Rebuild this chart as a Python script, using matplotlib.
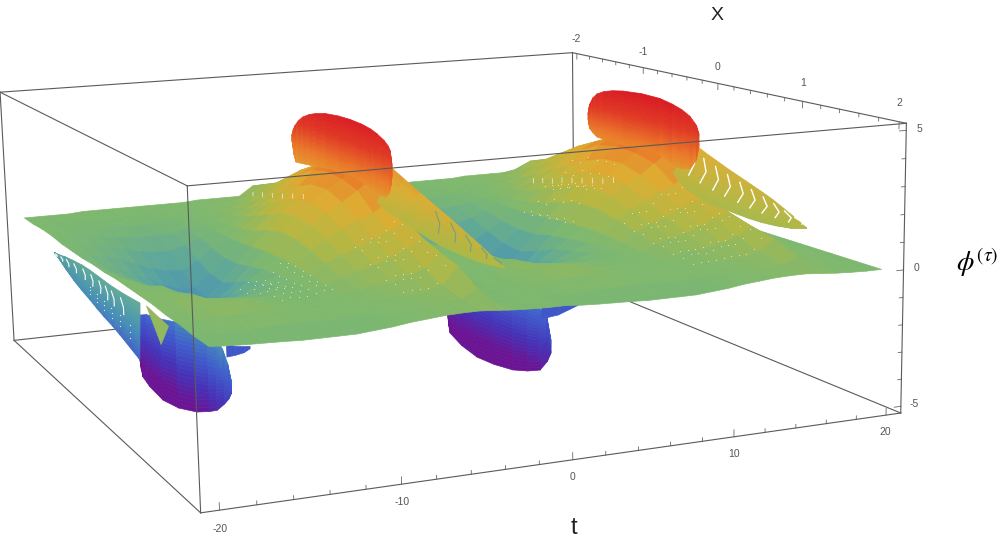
import numpy as np, matplotlib
matplotlib.use('Agg')
import matplotlib.pyplot as plt
from matplotlib.colors import LinearSegmentedColormap
from mpl_toolkits.mplot3d import proj3d

t_nodes = list(range(-20, 21))
x_nodes = [-2,-1.75,-1.5,-1.25,-1,-.75,-.5,-.25,0,.25,.5,.75,1,1.25,1.5,1.75,2]
surface_z = [
[0,0,.05,.05,0,0,0,.05,.05,.1,.1,.1,.1,.05,.05,0,0],
[0,0,0,-.05,-.1,-.2,-.3,-.3,-.2,-.05,.05,.15,.25,.2,.1,0,-.05],
[0,0,-.05,-.1,-.2,-.35,-.5,-.55,-.5,-.3,0,.05,.25,.3,.15,0,-.08],
[0,0,-.05,-.15,-.3,-.5,-.75,-.85,-.8,-.6,-.3,-.05,.1,.3,.2,0,-.1],
[.05,0,-.1,-.25,-.45,-.75,-1.05,-1.2,-1.1,-.9,-.6,-.3,.05,.3,.2,.05,-.12],
[.05,0,-.1,-.3,-.6,-1,-1.35,-1.5,-1.4,-1.15,-.8,-.4,0,.2,.2,.05,-.15],
[.05,0,-.15,-.35,-.7,-1.15,-1.55,-1.7,-1.55,-1.25,-.8,-.35,-.05,.1,.1,.05,-.15],
[.05,0,-.15,-.35,-.7,-1.2,-1.6,-1.7,-1.4,-.9,-.55,-.25,-.05,.05,.05,.03,-.15],
[.05,0,-.1,-.3,-.55,-.85,-1.1,-1.15,-.85,-.5,-.3,-.1,0,.05,.05,.03,-.15],
[.05,0,-.05,-.15,-.3,-.45,-.55,-.5,-.3,-.15,-.05,0,.05,.05,.05,.03,-.1],
[.05,.05,0,-.05,-.05,-.05,0,.1,.2,.25,.25,.2,.15,.1,.05,.03,-.05],
[.05,.05,.05,.05,.1,.2,.4,.7,.9,.9,.75,.55,.35,.2,.1,.05,.03],
[.1,.1,.1,.2,.4,.7,1.0,1.3,1.45,1.35,1.1,.8,.5,.3,.15,.1,.08],
[.1,.15,.25,.4,.75,1.1,1.5,1.8,1.9,1.75,1.4,1.0,.65,.35,.2,.15,.13],
[.1,.2,.4,.75,1.15,1.6,2.0,2.3,2.35,2.1,1.7,1.25,.85,.5,.25,.2,.15],
[.1,.4,.8,1.2,1.7,2.2,2.6,2.75,2.7,2.5,1.9,1.5,1.1,.7,.4,.2,.15],
[.5,.8,1.1,1.6,2.1,2.5,2.9,3.2,3.4,2.9,2.3,1.8,1.45,1.2,1.0,.5,.1],
[.05,.05,.05,.05,0,0,0,0,-.05,-.1,-.1,-.1,-.05,0,0,0,.05],
[0,0,0,0,0,0,0,0,-.05,-.05,-.05,-.05,0,0,0,0,.02],
[0,0,0,0,0,0,0,0,0,0,0,0,0,0,0,0,0],
[0,0,.05,.05,0,0,0,.05,.05,.1,.1,.1,.1,.05,.05,0,0],
[0,0,0,-.05,-.1,-.2,-.3,-.3,-.2,-.05,.05,.15,.25,.2,.1,0,-.05],
[0,0,-.05,-.1,-.2,-.35,-.5,-.55,-.5,-.3,0,.05,.25,.3,.15,0,-.08],
[0,0,-.05,-.15,-.3,-.5,-.75,-.85,-.8,-.6,-.3,-.05,.1,.3,.2,0,-.1],
[.05,0,-.1,-.25,-.45,-.75,-1.05,-1.2,-1.1,-.9,-.6,-.3,.05,.3,.2,.05,-.12],
[.05,0,-.1,-.3,-.6,-1,-1.35,-1.5,-1.4,-1.15,-.8,-.4,0,.2,.2,.05,-.15],
[.05,0,-.15,-.35,-.7,-1.15,-1.55,-1.7,-1.55,-1.25,-.8,-.35,-.05,.1,.1,.05,-.15],
[.05,0,-.15,-.35,-.7,-1.2,-1.6,-1.7,-1.4,-.9,-.55,-.25,-.05,.05,.05,.03,-.15],
[.05,0,-.1,-.3,-.55,-.85,-1.1,-1.15,-.85,-.5,-.3,-.1,0,.05,.05,.03,-.15],
[.05,0,-.05,-.15,-.3,-.45,-.55,-.5,-.3,-.15,-.05,0,.05,.05,.05,.03,-.1],
[.05,.05,0,-.05,-.05,-.05,0,.1,.2,.25,.25,.2,.15,.1,.05,.03,-.05],
[.05,.05,.05,.05,.1,.2,.4,.7,.9,.9,.75,.55,.35,.2,.1,.05,.03],
[.1,.1,.1,.2,.4,.7,1.0,1.3,1.45,1.35,1.1,.8,.5,.3,.15,.1,.08],
[.1,.15,.25,.4,.75,1.1,1.5,1.8,1.9,1.75,1.4,1.0,.65,.35,.2,.15,.13],
[.1,.2,.4,.75,1.15,1.6,2.0,2.3,2.35,2.1,1.7,1.25,.85,.5,.25,.2,.15],
[.1,.4,.8,1.2,1.7,2.2,2.6,2.75,2.7,2.5,1.9,1.5,1.1,.7,.4,.2,.15],
[.2,.8,1.1,1.6,2.1,2.5,2.9,3.2,3.4,2.9,2.3,1.6,1.25,1.0,.8,.4,.1],
[.1,.3,.4,.5,.6,.6,.6,.6,.5,.5,.5,.4,.4,.3,.2,.1,.05],
[.05,.15,.2,.3,.3,.3,.3,.3,.3,.3,.3,.2,.2,.15,.1,.05,.02],
[0,.05,.1,.1,.15,.15,.15,.15,.15,.15,.1,.1,.1,.05,.05,0,0],
[0,0,0,0,0,0,0,0,0,0,0,0,0,0,0,0,0],
]
tick_t = [-20,-10,0,10,20]
tick_x = [-2,-1,0,1,2]
tick_z = [-5,0,5]
minor_t = list(range(-20,21,2))
minor_x = [-2,-1.8,-1.6,-1.4,-1.2,-1,-.8,-.6,-.4,-.2,0,.2,.4,.6,.8,1,1.2,1.4,1.6,1.8,2]
minor_z = [-5,-4,-3,-2,-1,0,1,2,3,4,5]

cap1_t=-4
cap1_x=[-1.16,-1.13,-1.10,-1.03,-.94,-.82,-.7,-.53,-.3,-.10,.1,.24,.34,.45,.51,.54,.56]
cap1_top=[3.40,3.65,3.82,4.08,4.31,4.5,4.63,4.76,4.84,4.86,4.83,4.76,4.66,4.5,4.35,4.2,3.75]
cap1_low=[3.15,2.6,2.34,2.36,2.4,2.45,2.5,2.6,2.65,2.7,2.6,2.5,2.4,2.4,2.6,2.9,3.3]
cap2_t=16
cap2_x=[-.85,-.83,-.78,-.72,-.62,-.5,-.35,-.1,.14,.3,.42,.52,.6,.63]
cap2_top=[3.63,4.0,4.32,4.53,4.7,4.82,4.91,4.98,4.96,4.85,4.72,4.54,4.25,3.95]
cap2_low=[3.35,3.0,2.85,2.72,2.7,2.7,2.7,2.75,2.7,2.5,2.4,2.5,2.9,3.45]
trough1_t=-17
trough1_x=[-.39,-.37,-.34,-.2,.08,.4,.76,1.0,1.14,1.28,1.36,1.41]
trough1_low=[-4.02,-4.35,-4.61,-4.78,-4.89,-4.7,-4.29,-3.9,-3.64,-3.2,-2.9,-2.62]
trough1_top=[-2.9,-2.5,-2.2,-2.0,-1.8,-1.5,-1.2,-1.0,-1.0,-1.3,-1.7,-2.2]
trough2_t=4
trough2_x=[-.51,-.5,-.48,-.3,-.06,.2,.47,.68,.85,.95,1.0]
trough2_low=[-3.9,-4.25,-4.53,-4.8,-4.95,-4.88,-4.71,-4.45,-4.17,-3.7,-3.31]
trough2_top=[-2.2,-2.0,-1.8,-1.8,-1.8,-1.8,-1.8,-1.8,-1.8,-2.0,-2.8]
neck2_x=[.88,1.1,1.25,1.4]
neck2_low=[-2.18,-1.75,-1.35,-.95]
neck2_top=[-1.2,-1.0,-.9,-.85]
neck1_x=[1.35,1.5,1.65,1.75]
neck1_low=[-1.47,-1.2,-.9,-.63]
neck1_top=[-1.0,-.9,-.7,-.55]

fan2_ridge_x=[.56,.70,.84,.98,1.12,1.25,1.38,1.49,1.6,1.7,1.78,1.84]
fan2_ridge_z=[3.53,3.3,3.1,2.9,2.72,2.55,2.38,2.22,2.03,1.85,1.7,1.56]
fan2_low_x=[.31,.38,.48,.62,.78,.92,1.08,1.22,1.36,1.52,1.68,1.84]
fan2_low_z=[2.14,1.88,1.63,1.48,1.38,1.33,1.29,1.26,1.26,1.3,1.38,1.56]
fan1_t=-3
fan1_ridge_x=[.31,.5,.74,.95,1.16,1.36,1.57,1.72,1.88]
fan1_ridge_z=[3.31,3.07,2.77,2.53,2.29,2.03,1.77,1.55,1.34]
fan1_low_x=[.06,.2,.42,.7,1.01,1.25,1.47,1.68,1.88]
fan1_low_z=[1.75,1.6,1.47,1.3,1.14,1.13,1.14,1.22,1.34]
fanb_up_x=[-2.45,-2.3,-2.15,-1.95,-1.71,-1.5,-1.3,-1.15,-1.01,-.8,-.55,-.33]
fanb_up_z=[-2.17,-2.1,-2.0,-1.92,-1.84,-1.82,-1.83,-1.84,-1.85,-1.83,-1.78,-1.72]
fanb_low_x=[-2.45,-2.3,-2.15,-1.95,-1.75,-1.54,-1.38,-1.2,-1.0,-.83,-.6,-.39]
fanb_low_z=[-2.17,-2.35,-2.55,-2.78,-2.96,-3.11,-3.25,-3.38,-3.5,-3.63,-3.83,-4.02]
wedge_x=[-.2,.25,.08]
wedge_z=[-1.65,-1.84,-2.75]
slit2_x=[-1.5,-1.35,-1.2,-1.05,-.9,-.75,-.6,-.45,-.3]
slit2_low=[.1,.24,.37,.54,.67,.8,.94,1.07,1.24]
slit2_high=[.3,.44,.57,.74,.87,1.0,1.14,1.27,1.44]
slit1_x=[-1.7,-1.5,-1.3,-1.1,-.9,-.7]
slit1_low=[.4,.57,.74,.9,1.1,1.27]
slit1_high=[.57,.74,.9,1.07,1.27,1.44]
speck_patches=[
 ([-13,-12.5,-12,-11.5,-11,-10.5,-10],[.4,.52,.64,.76,.88,1.0,1.12]),
 ([-7,-6.5,-6,-5.5,-5,-4.5],[.7,.82,.94,1.06,1.18,1.3,1.42]),
 ([10,10.5,11,11.5,12,12.5,13,13.5],[-.6,-.48,-.36,-.24,-.12,0]),
 ([11,11.5,12,12.5,13,13.5,14,14.5,15,15.5],[.6,.72,.84,.96,1.08,1.2,1.32,1.44]),
]

cmap=LinearSegmentedColormap.from_list('rb',[(0.42,0.08,0.58),(0.27,0.2,0.72),(0.25,0.36,0.80),(0.27,0.55,0.72),(0.36,0.65,0.62),(0.49,0.72,0.44),(0.70,0.72,0.27),(0.87,0.68,0.2),(0.92,0.48,0.16),(0.88,0.22,0.14),(0.85,0.1,0.14)])
col=lambda z:cmap(np.clip((np.asarray(z)+5)/10,0,1))

fig=plt.figure(figsize=(10,5.45),dpi=100)
ax=fig.add_subplot(projection='3d',computed_zorder=False)
T,X,Z=21.0,2.07,5.25
ax.set_xlim(-T,T);ax.set_ylim(X,-X);ax.set_zlim(-Z,Z)
ax.set_axis_off()
L=1400.
el,az,ro,lf,ay,azz,lz,cx,cy=11.0206,-112.3774,1.2324,-1.1903,1.0032,0.4002,-0.3642,400.8383,260.5903
ax.view_init(elev=el,azim=az,roll=ro)
ax.set_proj_type('persp',focal_length=float(np.exp(lf)))
ax.set_box_aspect((1,ay,azz),zoom=float(np.exp(lz)))
ax.set_position([(cx-L/2)/1000,(545-cy-L/2)/545,L/1000,L/545])
ax.apply_aspect()
M=ax.get_proj()

def surf(TT,XX,ZZ,zo,cz=None):
    m=(ZZ[:-1,:-1]+ZZ[1:,:-1]+ZZ[:-1,1:]+ZZ[1:,1:])/4
    c=col(m if cz is None else cz(m))
    s=ax.plot_surface(TT,XX,ZZ,facecolors=c,shade=False,rstride=1,cstride=1,linewidth=.5,antialiased=True,zorder=zo)
    s.set_edgecolor(c.reshape(-1,4))
    return s
def band(t0,xs_low,xs_top,zlow,ztop,zo,cz=None,n=22):
    f=np.linspace(0,1,n)[:,None]
    xa,xb=np.array(xs_low,float),np.array(xs_top,float)
    za,zb=np.array(zlow,float),np.array(ztop,float)
    XX=xa+f*(xb-xa);ZZ=za+f*(zb-za)
    surf(np.full_like(ZZ,t0),XX,ZZ,zo,cz)
def arcs(t0,ux,uz,vx,vz,idx,shift,f0,f1,bulge,zo,**kw):
    for i in idx:
        j=min(i+shift,len(ux)-1)
        fs=np.array([f0,(f0+f1)/2,f1])
        xs=ux[i]+fs*(vx[j]-ux[i]); zs=uz[i]+fs*(vz[j]-uz[i])
        xs[1]+=bulge
        ax.plot([t0]*3,xs,zs,zorder=zo,**kw)
edge=dict(color='#5a5a5a',lw=.8)
def E(a,b,zo):
    ax.plot([a[0],b[0]],[a[1],b[1]],[a[2],b[2]],zorder=zo,**edge)
for a,b in [((-T,-X,-Z),(T,-X,-Z)),((T,-X,-Z),(T,X,-Z)),((T,-X,-Z),(T,-X,Z)),((-T,-X,-Z),(-T,X,-Z)),((-T,-X,-Z),(-T,-X,Z)),((-T,-X,Z),(T,-X,Z)),((T,-X,Z),(T,X,Z)),((-T,-X,Z),(-T,X,Z))]:
    E(a,b,1)
for a,b in [((-T,X,-Z),(T,X,-Z)),((-T,X,-Z),(-T,X,Z)),((T,X,-Z),(T,X,Z)),((-T,X,Z),(T,X,Z))]:
    E(a,b,20)
# lower lobes and fan, behind the sheet
dark=lambda m:m-.8
band(trough1_t,trough1_x,trough1_x,trough1_low,trough1_top,2,dark)
band(trough2_t,trough2_x,trough2_x,trough2_low,trough2_top,2,dark)
band(trough2_t,neck2_x,neck2_x,neck2_low,neck2_top,2,lambda m:m*0-3.1,n=2)
band(trough1_t,neck1_x,neck1_x,neck1_low,neck1_top,2,lambda m:m*0-3.1,n=2)
band(trough1_t,fanb_low_x,fanb_up_x,fanb_low_z,fanb_up_z,3,lambda m:m+1.0)
arcs(trough1_t,fanb_up_x,fanb_up_z,fanb_low_x,fanb_low_z,range(0,10),1,.12,.42,.03,3.5,color='white',lw=.8)
for i in range(5,11):
    for f in (.55,.68,.8):
        ax.scatter([trough1_t],[fanb_up_x[i]+f*(fanb_low_x[i]-fanb_up_x[i])],[fanb_up_z[i]+f*(fanb_low_z[i]-fanb_up_z[i])],s=.9,c='white',alpha=.8,linewidths=0,depthshade=False,zorder=3.5)
band(trough1_t,[wedge_x[0],wedge_x[2]],[wedge_x[1],wedge_x[1]],[wedge_z[0],wedge_z[2]],[wedge_z[1],wedge_z[1]],3.6,lambda m:m*0+.4,n=2)
# sheet
TT,XX=np.meshgrid(t_nodes,x_nodes,indexing='ij')
ZT=np.array(surface_z)
surf(TT,XX,ZT,5)
for ts,xs in speck_patches:
    pts=[(a,b,ZT[t_nodes.index(round(a)),x_nodes.index(min(x_nodes,key=lambda v:abs(v-b)))]) for a in ts for b in xs]
    p=np.array(pts)
    ax.scatter(p[:,0],p[:,1],p[:,2],s=.7,c='white',alpha=.65,linewidths=0,depthshade=False,zorder=6)
# fans
band(fan1_t,fan1_low_x,fan1_ridge_x,fan1_low_z,fan1_ridge_z,7,lambda m:m*.75)
arcs(fan1_t,fan1_ridge_x,fan1_ridge_z,fan1_low_x,fan1_low_z,range(3,8),1,.15,.7,.04,7.5,color=(0.35,0.6,0.62),lw=.8,alpha=.75)
band(cap2_t,fan2_low_x,fan2_ridge_x,fan2_low_z,fan2_ridge_z,7,lambda m:m*.6)
arcs(cap2_t,fan2_ridge_x,fan2_ridge_z,fan2_low_x,fan2_low_z,range(0,10),2,.14,.68,.05,7.5,color='white',lw=1.0)
for xs,lo,hi,t0 in [(slit2_x,slit2_low,slit2_high,15),(slit1_x,slit1_low,slit1_high,-5)]:
    for a,b,c_ in zip(xs,lo,hi):
        ax.plot([t0,t0],[a,a],[b,c_],color='white',lw=.6,alpha=.7,zorder=7.5)
# caps
band(cap1_t,cap1_x,cap1_x,cap1_low,cap1_top,8)
band(cap2_t,cap2_x,cap2_x,cap2_low,cap2_top,8)
# ticks
tc='#666666'
for v in minor_t:
    h=.25 if v in tick_t else .13
    ax.plot([v,v],[X,X],[-Z,-Z+h],color=tc,lw=.6,zorder=19)
for v in minor_x:
    h=.25 if v in tick_x else .13
    ax.plot([T,T],[v,v],[Z,Z-h],color=tc,lw=.6,zorder=19)
for v in minor_z:
    h=.45 if v in tick_z else .25
    ax.plot([T,T-h],[X,X],[v,v],color=tc,lw=.6,zorder=19)
def label(t,x,z,s):
    a,b,_=proj3d.proj_transform(t,x,z,M)
    d=ax.transData.transform((a,b))
    fig.text(d[0]/1000,d[1]/545,s,family='Liberation Sans',color='#555555',fontsize=7.5,ha='center',va='center')
for v in tick_t:
    label(v,X,-Z-.62,str(v))
for v in tick_x:
    label(T,v,Z+.68,str(v))
for v in tick_z:
    label(T+.9,X,v,str(v))
fig.text(.717,1-15/545,'X',family='Liberation Sans',fontsize=14,ha='center',va='center',color='#222222')
fig.text(.574,1-528/545,'t',family='Liberation Sans',fontsize=17,ha='center',va='center',color='#222222')
plt.rcParams['mathtext.fontset']='stix'
fig.text(.977,1-262/545,r'$\phi^{(\tau)}$',fontsize=20,ha='center',va='center',color='black')
fig.savefig('out.png',dpi=100)
